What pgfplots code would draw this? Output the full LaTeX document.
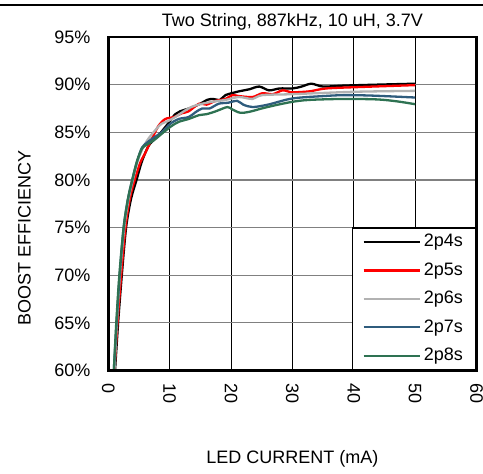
\documentclass[border=0pt]{standalone}
\usepackage{pgfplots}
\pgfplotsset{compat=1.18}
\usepackage{fontspec}
\setmainfont{Liberation Sans}
\definecolor{cgray}{RGB}{178,178,178}
\definecolor{cblue}{RGB}{47,92,125}
\definecolor{cgreen}{RGB}{46,114,82}
\definecolor{cred}{RGB}{255,0,0}
\begin{document}
\fontsize{9}{10.8}\selectfont
\begin{tikzpicture}
\begin{axis}[
  at={(0,0)}, anchor=south west,
  scale only axis, width=184.1pt, height=166.75pt,
  xmin=0, xmax=60, ymin=60, ymax=95,
  xtick={0,10,...,60}, xticklabels={0,10,20,30,40,50,60},
  ytick={60,65,...,95},
  yticklabels={60\%,65\%,70\%,75\%,80\%,85\%,90\%,95\%},
  major tick length=0pt,
  xticklabel style={rotate=-90, anchor=west, font=\fontsize{9}{10.8}\selectfont},
  yticklabel style={font=\fontsize{9}{10.8}\selectfont},
  xticklabel shift=3.2pt, yticklabel shift=5.8pt,
  grid=major,
  major x grid style={black, line width=0.5pt},
  major y grid style={gray, line width=0.6pt},
  axis line style={line width=1.3pt},
  title={Two String, 887kHz, 10 uH, 3.7V},
  every axis title/.style={at={(axis description cs:0.5,1.0309)}, anchor=base, font=\fontsize{9}{10.8}\selectfont},
  xlabel={LED CURRENT (mA)},
  xlabel style={at={(axis description cs:0.5,-0.2783)}, anchor=base, font=\fontsize{9}{10.8}\selectfont},
  ylabel={BOOST EFFICIENCY},
  ylabel style={at={(axis description cs:-0.2108,0.397)}, anchor=base, font=\fontsize{9}{10.8}\selectfont},
  legend style={at={(axis description cs:1,0)}, anchor=south east, draw=black, line width=0.6pt,
    fill=white, font=\fontsize{9}{10.8}\selectfont, row sep=0pt, inner xsep=5pt, inner ysep=0pt,
    nodes={text height=6.6pt, text depth=1.9pt, inner ysep=2.85pt, inner xsep=1.5pt},
    cells={anchor=west}},
  legend image code/.code={\draw[#1] (0pt,0pt) -- (28pt,0pt);},
  every axis plot/.append style={line width=1.15pt, smooth, tension=0.5},
]
\addplot[black] table {
1.1 60
1.6 65
2.2 70
2.9 75
3.7 78
4.6 80
5.4 81.8
6.2 83.1
6.8 83.8
8.2 84.7
9.6 85.8
10.9 86.9
11.7 87.2
13.6 87.6
15.0 88.0
16.1 88.4
17.0 88.5
18.2 88.4
19.1 88.9
21.3 89.3
22.9 89.5
24.6 89.8
26.2 89.4
27.9 89.6
30.0 89.6
31.5 89.8
33.1 90.1
35.0 89.8
38.3 89.9
43.8 90.0
50.0 90.1
};
\addlegendentry{2p4s}
\addplot[cred] table {
1.0 60
1.5 65
2.1 70
2.8 75
3.5 78
4.3 80
5.2 81.8
6.0 82.8
7.1 84.3
8.2 85.7
9.3 86.4
10.7 86.6
12.0 87.0
13.1 87.2
14.8 88.0
16.0 87.9
17.5 88.3
19.1 88.5
20.2 88.9
21.3 88.8
23.5 88.7
25.1 89.1
26.8 89.0
28.4 89.4
30.0 89.2
32.8 89.3
35.5 89.6
41.0 89.75
50.0 89.95
};
\addlegendentry{2p5s}
\addplot[cgray] table {
1.0 60
1.4 65
1.9 70
2.6 75
3.3 78
4.0 80
4.8 82
5.6 83.3
6.5 84.3
7.9 85.4
8.7 85.9
9.8 86.2
10.9 86.6
12.3 87.2
13.7 87.7
15.3 88.0
16.9 88.2
19.1 88.4
21.3 88.7
23.5 88.5
25.1 88.9
30.0 89.0
40.0 89.25
50.0 89.35
};
\addlegendentry{2p6s}
\addplot[cblue] table {
0.9 60
1.35 65
1.85 70
2.5 75
3.2 78
3.9 80
4.7 82
5.5 83.4
6.3 83.9
7.1 84.3
8.7 85.0
10.1 85.9
11.5 86.4
13.1 86.6
14.2 87.1
15.3 87.5
16.5 87.5
18.0 88.0
19.5 88.1
21.0 88.3
22.0 87.9
23.5 87.65
26.0 87.9
30.0 88.55
35.0 88.8
38.5 88.9
43.0 88.85
50.0 88.65
};
\addlegendentry{2p7s}
\addplot[cgreen] table {
0.9 60
1.3 65
1.8 70
2.5 75
3.2 78
3.9 80
4.7 82
5.5 83.3
6.3 83.7
7.5 84.2
9.0 85.0
10.4 85.7
11.5 86.1
13.1 86.4
14.8 86.8
16.0 86.9
17.5 87.2
19.4 87.65
20.2 87.4
21.5 87.05
23.0 87.15
25.0 87.5
27.3 87.85
30.0 88.2
32.8 88.4
38.3 88.5
43.8 88.45
47.0 88.25
50.0 87.95
};
\addlegendentry{2p8s}
\draw[line width=1.3pt] (rel axis cs:0,0) rectangle (rel axis cs:1,1);
\end{axis}
\draw[line width=0.65pt] (-54.15pt,182.75pt) -- (187.35pt,182.75pt);
\pgfresetboundingbox
\useasboundingbox (-54.15pt,-51.25pt) rectangle (187.35pt,185.25pt);
\end{tikzpicture}
\end{document}
